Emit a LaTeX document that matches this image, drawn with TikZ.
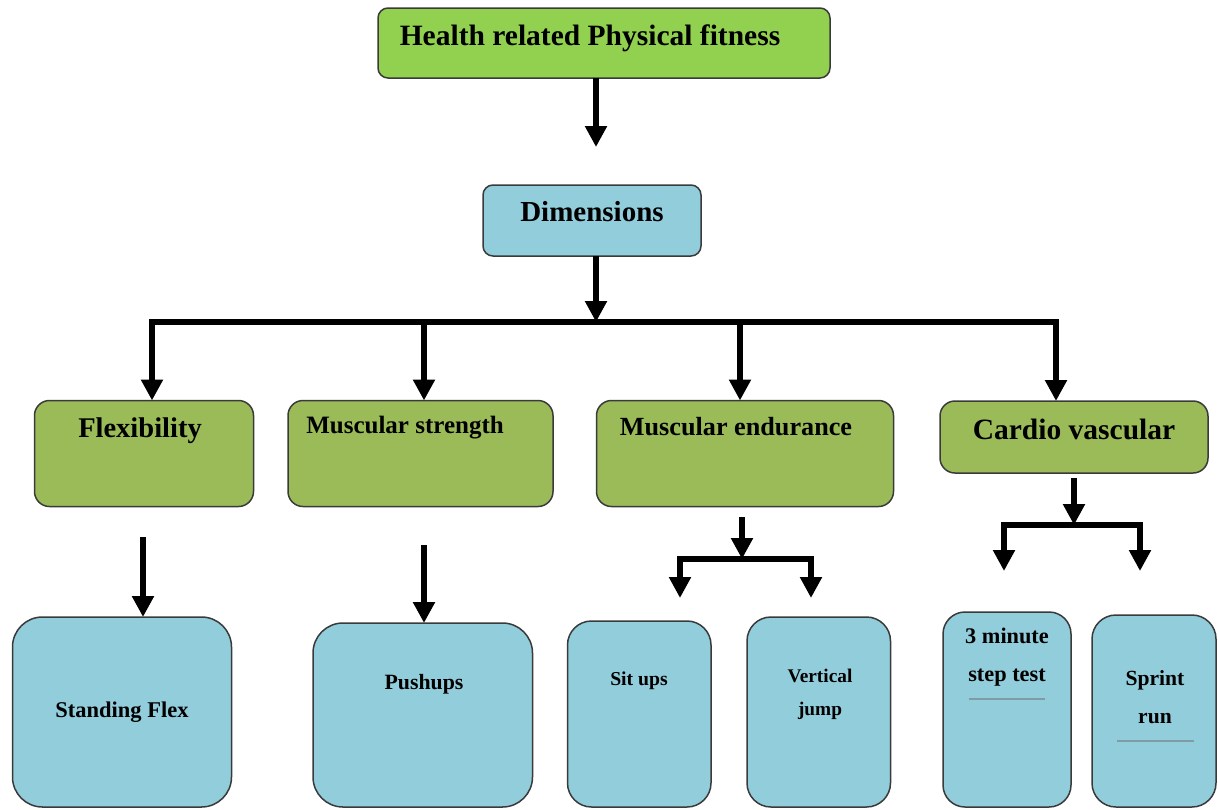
\documentclass[tikz,border=0pt]{standalone}
\usepackage{fontspec}
\setmainfont{Liberation Serif}
\usetikzlibrary{arrows.meta}
\definecolor{topgreen}{HTML}{92D050}
\definecolor{olive}{HTML}{9BBB59}
\definecolor{lblue}{HTML}{92CDDC}
\definecolor{edgecol}{HTML}{3A3A3A}
\definecolor{rulecol}{HTML}{7F9CA4}
\begin{document}
\begin{tikzpicture}[x=1pt,y=-1pt,
  box/.style={draw=edgecol, line width=1.5pt, anchor=north west, inner sep=0pt, outer sep=0pt},
  topbox/.style={box, fill=topgreen, rounded corners=10pt},
  dimbox/.style={box, fill=lblue, rounded corners=10pt},
  dimen/.style={box, fill=olive, rounded corners=15pt},
  testbox/.style={box, fill=lblue, rounded corners=#1},
  txt/.style={inner sep=0pt, anchor=base, font=\bfseries\fontsize{#1}{#1}\selectfont},
  arr/.style={line width=5.5pt, -{Triangle[width=21pt,length=21pt]}},
  barline/.style={line width=5.5pt, line cap=rect},
  thinrule/.style={draw=rulecol, line width=1.6pt}
]
\useasboundingbox (0,0) rectangle (1218,809);

% boxes
\node[topbox, minimum width=452pt, minimum height=70pt] (top) at (378,8) {};
\node[dimbox, minimum width=218pt, minimum height=71pt] (dim) at (483,185) {};
\node[dimen, minimum width=219pt, minimum height=106pt] (flex) at (34.5,400.5) {};
\node[dimen, minimum width=265pt, minimum height=106pt] (str) at (288,400.5) {};
\node[dimen, minimum width=297pt, minimum height=106pt] (end) at (596.5,400.5) {};
\node[dimen, minimum width=268pt, minimum height=72pt] (card) at (940,401) {};
\node[testbox=30pt, minimum width=219pt, minimum height=190pt] (sf) at (12.5,617) {};
\node[testbox=30pt, minimum width=219.5pt, minimum height=184pt] (push) at (313,623) {};
\node[testbox=24pt, minimum width=143.5pt, minimum height=186pt] (sit) at (567.5,621) {};
\node[testbox=24pt, minimum width=143.5pt, minimum height=190pt] (vj) at (747,617) {};
\node[testbox=22pt, minimum width=128pt, minimum height=195pt] (step) at (943,612) {};
\node[testbox=24pt, minimum width=124pt, minimum height=192pt] (spr) at (1092,615) {};

% texts
\node[txt=29.5] (ttop) at (590,45) {Health related Physical fitness};
\node[txt=29] (tdim) at (592,221) {Dimensions};
\node[txt=28.5] (tflex) at (140,437) {Flexibility};
\node[txt=25] (tstr) at (405,433) {Muscular strength};
\node[txt=26.2] (tend) at (736,435) {Muscular endurance};
\node[txt=29.5] (tcard) at (1074,439) {Cardio vascular};
\node[txt=22.5] (tsf) at (122,717) {Standing Flex};
\node[txt=21.8] (tpush) at (424,689) {Pushups};
\node[txt=19.7] (tsit) at (639,685) {Sit ups};
\node[txt=19.3] (tvj1) at (820,682) {Vertical};
\node[txt=19.3] (tvj2) at (820,715) {jump};
\node[txt=22.3] (tst1) at (1007,643) {3 minute};
\node[txt=22.3] (tst2) at (1007,681) {step test};
\node[txt=21.6] (tsp1) at (1155,685) {Sprint};
\node[txt=21.6] (tsp2) at (1155,723) {run};

% thin rules under texts
\coordinate (r1a) at (969,699); \coordinate (r1b) at (1045,699);
\coordinate (r2a) at (1117,741); \coordinate (r2b) at (1194,741);
\draw[thinrule] (r1a) -- (r1b);
\draw[thinrule] (r2a) -- (r2b);

% connectors: top -> dimensions
\coordinate (a1end) at (596,147);
\draw[arr] (top.south -| a1end) -- (a1end);

% dimensions -> bar
\coordinate (barL) at (152,322);
\coordinate (barR) at (1056,322);
\coordinate (barM) at (596,322);
\draw[arr] (dim.south -| barM) -- (barM);
\draw[barline] (barL) -- (barR);
\coordinate (b2) at (424,322);
\coordinate (b3) at (740,322);
\draw[arr] (barL) -- (barL |- flex.north);
\draw[arr] (b2) -- (b2 |- str.north);
\draw[arr] (b3) -- (b3 |- end.north);
\draw[arr] (barR) -- (barR |- card.north);

% flexibility -> standing flex
\coordinate (f1) at (143,537);
\draw[arr] (f1) -- (f1 |- sf.north);
% strength -> pushups
\coordinate (p1) at (424,545);
\draw[arr] (p1) -- (p1 |- push.north);

% endurance branch
\coordinate (e0) at (742,517);
\coordinate (eM) at (742,559);
\coordinate (eL) at (680,559);
\coordinate (eR) at (811,559);
\coordinate (eLt) at (680,598);
\coordinate (eRt) at (811,598);
\draw[arr] (e0) -- (eM);
\draw[barline] (eL) -- (eR);
\draw[arr] (eL) -- (eLt);
\draw[arr] (eR) -- (eRt);

% cardio branch
\coordinate (c0) at (1074,478);
\coordinate (cM) at (1074,525);
\coordinate (cL) at (1004,525);
\coordinate (cR) at (1140,525);
\coordinate (cLt) at (1004,571);
\coordinate (cRt) at (1140,571);
\draw[arr] (c0) -- (cM);
\draw[barline] (cL) -- (cR);
\draw[arr] (cL) -- (cLt);
\draw[arr] (cR) -- (cRt);
\end{tikzpicture}
\end{document}
